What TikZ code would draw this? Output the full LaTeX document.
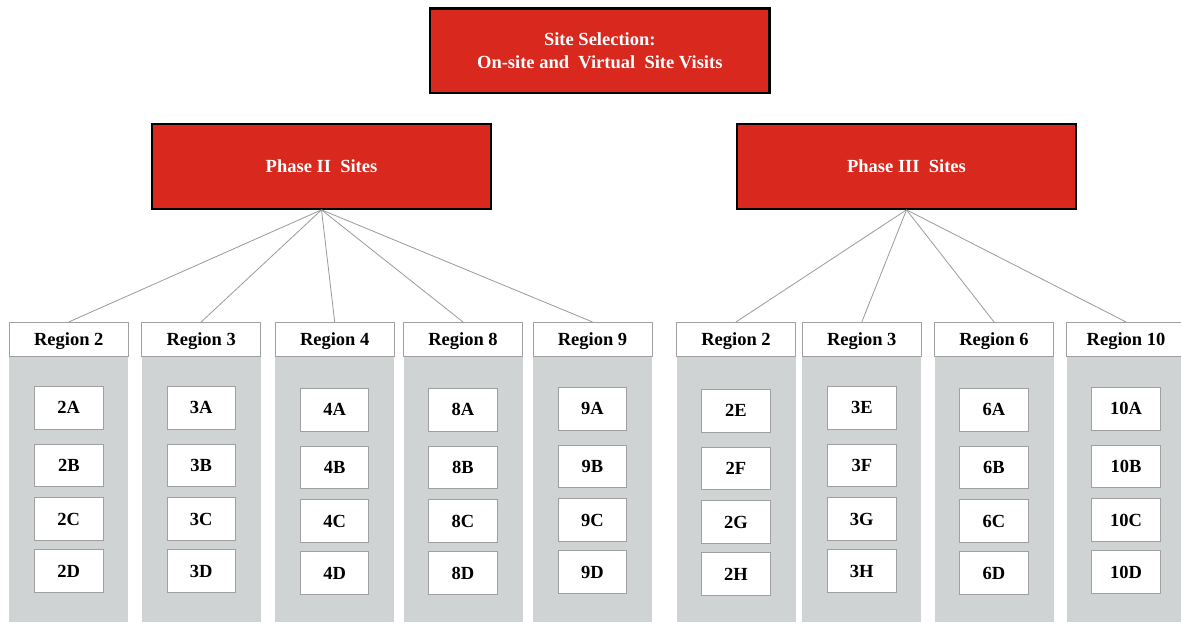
\documentclass[tikz,border=0pt]{standalone}
\usepackage{fontspec}
\setmainfont{Liberation Serif}
\definecolor{boxred}{HTML}{D9281E}
\definecolor{colgrey}{HTML}{D0D3D4}
\definecolor{edgegrey}{HTML}{A0A0A0}
\definecolor{linegrey}{HTML}{999999}
\begin{document}
\begin{tikzpicture}[x=1pt,y=-1pt,
  redbox/.style={draw=black, line width=2.2pt, fill=boxred, text=white,
    font=\bfseries\fontsize{18.5}{23}\selectfont, minimum width=339.5pt,
    minimum height=84.5pt, inner sep=0pt, align=center},
  colbox/.style={fill=colgrey, draw=none, minimum width=119pt, minimum height=266pt, inner sep=0pt},
  hdr/.style={draw=edgegrey, line width=0.8pt, fill=white, minimum width=119pt,
    minimum height=33.7pt, inner sep=0pt, text height=12.6pt, text depth=1pt,
    font=\bfseries\fontsize{18.5}{22}\selectfont},
  site/.style={draw=edgegrey, line width=0.8pt, fill=white, minimum width=68.3pt,
    minimum height=42.7pt, inner sep=0pt, font=\bfseries\fontsize{18.5}{22}\selectfont},
  conn/.style={draw=linegrey, line width=0.8pt}]
\useasboundingbox (0,0) rectangle (1181,622);
\clip (0,0) rectangle (1181,622);
\foreach \i/\x/\lab/\a/\b/\c/\d/\dy in {
  1/68.8/2/A/B/C/D/0, 2/201.2/3/A/B/C/D/0, 3/334.7/4/A/B/C/D/2,
  4/463/8/A/B/C/D/2, 5/592.5/9/A/B/C/D/1, 6/736/2/E/F/G/H/3,
  7/861.8/3/E/F/G/H/0, 8/994/6/A/B/C/D/2, 9/1126/10/A/B/C/D/1}{
  \node[colbox] (col\i) at (\x,489) {};
  \node[hdr] (reg\i) at (\x,339.2) {Region \lab};
  \node[site] (s\i a) at (\x,407.7+\dy) {\lab\a};
  \node[site] (s\i b) at (\x,465.5+\dy) {\lab\b};
  \node[site] (s\i c) at (\x,519+\dy) {\lab\c};
  \node[site] (s\i d) at (\x,571+\dy) {\lab\d};
}
\node[redbox] (top) at (599.8,50.7) {Site Selection:\\On-site and\ \ Virtual\ \ Site Visits};
\node[redbox] (ph2) at (321.5,166.5) {Phase II\ \ Sites};
\node[redbox] (ph3) at (906.5,166.5) {Phase III\ \ Sites};
\foreach \i in {1,...,5}{\draw[conn] (ph2.south) -- (reg\i.north);}
\foreach \i in {6,...,9}{\draw[conn] (ph3.south) -- (reg\i.north);}
\end{tikzpicture}
\end{document}
